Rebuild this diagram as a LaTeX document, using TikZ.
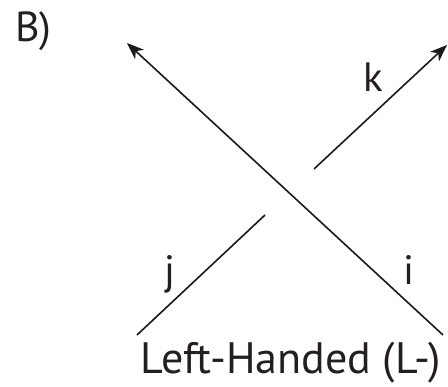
\documentclass[tikz,border=0pt]{standalone}
\usepackage{fontspec}
\setmainfont{PT Sans}
\usepackage{tikz}
\usetikzlibrary{arrows.meta}
\usepackage{xcolor}
\definecolor{StrandInk}{HTML}{1A1A1A}
\definecolor{LabelInk}{HTML}{231F20}
\tikzset{
  strand/.style={line width=1.6pt,draw=StrandInk},
  strandarrow/.style={strand,-{Stealth[length=17pt,width=13pt,inset=5pt]}},
  panel/.style={font=\fontsize{42}{46}\selectfont,text=LabelInk,inner sep=0pt,anchor=base west},
  arclabel/.style={font=\fontsize{41}{44}\selectfont,text=LabelInk,inner sep=0pt,anchor=base},
  caption/.style={font=\fontsize{44}{48}\selectfont,text=LabelInk,inner sep=0pt,anchor=base}
}

\begin{document}
\begin{tikzpicture}[x=1pt,y=-1pt]
  \useasboundingbox (0,0) rectangle (448,387);
  % ends of the two strands and the gap in the lower one
  \coordinate (ibottom) at (443,335);
  \coordinate (itop)    at (127,43);
  \coordinate (jbottom) at (137,335);
  \coordinate (jgap)    at (265,215);
  \coordinate (kgap)    at (314,169);
  \coordinate (ktop)    at (447,45);
  % over strand
  \draw[strandarrow] (ibottom) -- (itop);
  % under strand, broken at the crossing
  \draw[strand] (jbottom) -- (jgap);
  \draw[strandarrow] (kgap) -- (ktop);
  % labels
  \node[panel] (panelB) at (15,42) {B)};
  \node[arclabel] (labk) at (373,92) {k};
  \node[arclabel] (labj) at (170,285) {j};
  \node[arclabel] (labi) at (409,285) {i};
  \node[caption] (handedness) at (291,374) {Left-Handed (L-)};
\end{tikzpicture}
\end{document}
